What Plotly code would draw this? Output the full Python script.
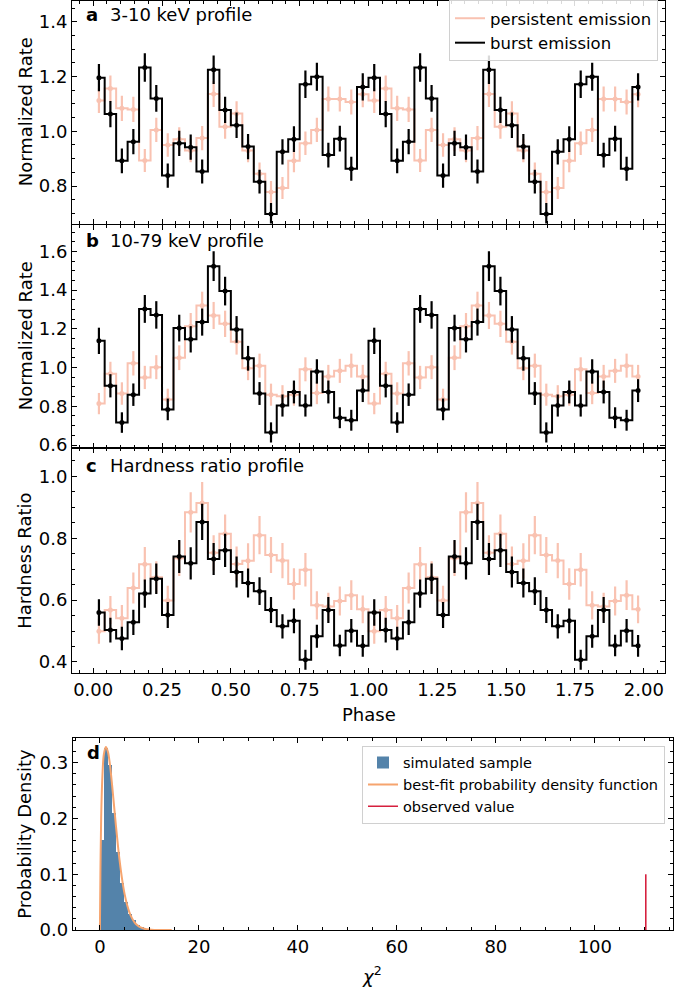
import plotly.graph_objects as go

# ---------------- data ----------------
n_bins = 24
phase_one = [(i + 0.5) / n_bins for i in range(n_bins)]
phase = phase_one + [p + 1.0 for p in phase_one]

# panel a: 3-10 keV normalized rate (one cycle, shown twice)
soft_burst = [1.196, 1.063, 0.892, 0.962, 1.233, 1.120, 0.838, 0.956, 0.942, 0.853, 1.225, 1.078,
              1.022, 0.944, 0.816, 0.698, 0.925, 0.971, 1.172, 1.199, 0.913, 0.973, 0.863, 1.162]
soft_burst_err = [0.050, 0.048, 0.045, 0.046, 0.052, 0.049, 0.044, 0.046, 0.046, 0.044, 0.052, 0.048,
                  0.047, 0.046, 0.043, 0.040, 0.046, 0.047, 0.050, 0.051, 0.045, 0.047, 0.044, 0.050]
soft_pers = [1.112, 1.156, 1.084, 1.080, 0.893, 1.005, 0.950, 0.971, 0.930, 0.975, 1.136, 1.017,
             1.065, 0.930, 0.845, 0.778, 0.793, 0.892, 0.956, 1.005, 1.118, 1.118, 1.107, 1.135]
soft_pers_err = [0.045, 0.048, 0.046, 0.046, 0.042, 0.044, 0.043, 0.044, 0.043, 0.044, 0.047, 0.044,
                 0.045, 0.043, 0.041, 0.040, 0.040, 0.042, 0.043, 0.044, 0.046, 0.046, 0.046, 0.047]

# panel b: 10-79 keV normalized rate
hard_burst = [1.138, 0.906, 0.716, 0.860, 1.303, 1.272, 0.784, 1.204, 1.146, 1.235, 1.524, 1.395,
              1.197, 1.048, 0.866, 0.665, 0.804, 0.874, 0.804, 0.980, 0.874, 0.741, 0.728, 0.881]
hard_burst_err = [0.068, 0.060, 0.053, 0.058, 0.072, 0.071, 0.056, 0.069, 0.068, 0.070, 0.077, 0.074,
                  0.069, 0.064, 0.059, 0.052, 0.057, 0.059, 0.057, 0.063, 0.059, 0.054, 0.054, 0.059]
hard_pers = [0.814, 0.968, 0.866, 1.022, 0.949, 1.002, 0.835, 1.051, 1.214, 1.320, 1.269, 1.226,
             1.133, 0.997, 1.010, 0.860, 0.852, 0.860, 0.991, 0.869, 0.954, 0.983, 1.010, 0.954]
hard_pers_err = [0.055, 0.062, 0.058, 0.063, 0.060, 0.062, 0.056, 0.064, 0.068, 0.072, 0.070, 0.068,
                 0.066, 0.062, 0.062, 0.057, 0.057, 0.057, 0.062, 0.058, 0.060, 0.062, 0.062, 0.060]

# panel c: hardness ratio
hr_burst = [0.560, 0.503, 0.476, 0.528, 0.621, 0.669, 0.552, 0.741, 0.719, 0.853, 0.733, 0.761,
            0.691, 0.655, 0.629, 0.568, 0.515, 0.533, 0.407, 0.483, 0.568, 0.453, 0.501, 0.452]
hr_burst_err = [0.043, 0.040, 0.038, 0.041, 0.046, 0.049, 0.042, 0.053, 0.052, 0.059, 0.052, 0.054,
                0.050, 0.047, 0.045, 0.042, 0.039, 0.040, 0.032, 0.037, 0.042, 0.035, 0.038, 0.035]
hr_pers = [0.499, 0.568, 0.541, 0.639, 0.716, 0.674, 0.599, 0.735, 0.884, 0.914, 0.753, 0.815,
           0.717, 0.727, 0.810, 0.746, 0.728, 0.652, 0.698, 0.583, 0.579, 0.597, 0.616, 0.570]
hr_pers_err = [0.040, 0.045, 0.043, 0.050, 0.056, 0.052, 0.047, 0.057, 0.065, 0.068, 0.057, 0.062,
               0.056, 0.057, 0.062, 0.058, 0.057, 0.051, 0.054, 0.046, 0.045, 0.047, 0.048, 0.045]

# panel d: chi-square test
hist_left_edges = [0.0, 0.81, 1.62, 2.43, 3.24, 4.05, 4.86, 5.67, 6.48, 7.29, 8.10, 8.91, 9.72, 10.53, 11.34]
hist_bin_width = 0.81
hist_density = [0.162, 0.327, 0.296, 0.211, 0.140, 0.085, 0.050, 0.030, 0.018, 0.010, 0.006, 0.003,
                0.0015, 0.0008, 0.0004]
pdf_x = [0.0, 0.1, 0.25, 0.5, 0.8, 1.2, 1.6, 2.0, 2.4, 2.8, 3.2, 3.6, 4.0, 4.5, 5.0, 5.5, 6.0, 6.5,
         7.0, 7.5, 8.0, 9.0, 10.0, 11.0, 12.0, 13.0, 14.5]
pdf_y = [0.0, 0.10, 0.20, 0.275, 0.315, 0.328, 0.320, 0.298, 0.265, 0.228, 0.190, 0.155, 0.123,
         0.090, 0.064, 0.045, 0.031, 0.021, 0.014, 0.009, 0.006, 0.0025, 0.001, 0.0004, 0.0002,
         0.0001, 0.0]
observed_chi2 = 110.3
observed_marker_height = 0.1

# ---------------- style ----------------
W, H = 694, 995
FONT = "DejaVu Sans"
PINK = "#f9c2b1"
BLACK = "#000000"
BLUE = "rgb(84,131,170)"
ORANGE = "#f6a46e"
RED = "#d6203e"

def px_x(p):
    return p / W

def px_y(p):
    return 1 - p / H

fig = go.Figure()

def add_profile(xa, ya, burst, burst_err, pers, pers_err, show_legend):
    b = burst + burst
    be = burst_err + burst_err
    pp = pers + pers
    pe = pers_err + pers_err
    fig.add_trace(go.Scatter(x=phase, y=pp, mode="lines", line=dict(color=PINK, width=2, shape="hvh"),
                             name="persistent emission", showlegend=show_legend, legend="legend",
                             xaxis=xa, yaxis=ya))
    fig.add_trace(go.Scatter(x=phase, y=pp, mode="markers", marker=dict(color=PINK, size=5),
                             error_y=dict(type="data", array=pe, color=PINK, thickness=2.2, width=0),
                             showlegend=False, xaxis=xa, yaxis=ya))
    fig.add_trace(go.Scatter(x=phase, y=b, mode="lines", line=dict(color=BLACK, width=2, shape="hvh"),
                             name="burst emission", showlegend=show_legend, legend="legend",
                             xaxis=xa, yaxis=ya))
    fig.add_trace(go.Scatter(x=phase, y=b, mode="markers", marker=dict(color=BLACK, size=5),
                             error_y=dict(type="data", array=be, color=BLACK, thickness=2.2, width=0),
                             showlegend=False, xaxis=xa, yaxis=ya))

add_profile("x", "y", soft_burst, soft_burst_err, soft_pers, soft_pers_err, True)
add_profile("x2", "y2", hard_burst, hard_burst_err, hard_pers, hard_pers_err, False)
add_profile("x3", "y3", hr_burst, hr_burst_err, hr_pers, hr_pers_err, False)

fig.add_trace(go.Bar(x=hist_left_edges, y=hist_density, width=hist_bin_width, offset=0,
                     marker=dict(color=BLUE, line=dict(width=0)), name="simulated sample",
                     legend="legend2", xaxis="x4", yaxis="y4"))
fig.add_trace(go.Scatter(x=pdf_x, y=pdf_y, mode="lines", line=dict(color=ORANGE, width=2, shape="spline"),
                         name="best-fit probability density function", legend="legend2",
                         xaxis="x4", yaxis="y4"))
fig.add_trace(go.Scatter(x=[observed_chi2, observed_chi2], y=[0, observed_marker_height], mode="lines",
                         line=dict(color=RED, width=1.6), name="observed value", legend="legend2",
                         xaxis="x4", yaxis="y4"))

tickfont = dict(family=FONT, size=18, color="black")

def xaxis(domain, rng, dtick, minor_dtick, anchor, show_labels, fmt):
    return dict(domain=domain, range=rng, anchor=anchor, showline=True, linecolor="black", linewidth=1,
                mirror="allticks", ticks="inside", ticklen=5, tickwidth=1, tickcolor="black",
                tick0=0, dtick=dtick, showticklabels=show_labels, tickformat=fmt, tickfont=tickfont,
                showgrid=False, zeroline=False,
                minor=dict(ticks="inside", ticklen=3, tickwidth=1, tickcolor="black", dtick=minor_dtick,
                           tick0=0, showgrid=False))

def yaxis(domain, rng, dtick, minor_dtick, anchor, fmt):
    return dict(domain=domain, range=rng, anchor=anchor, showline=True, linecolor="black", linewidth=1,
                mirror="allticks", ticks="inside", ticklen=5, tickwidth=1, tickcolor="black",
                tick0=0, dtick=dtick, tickformat=fmt, tickfont=tickfont, showgrid=False, zeroline=False,
                minor=dict(ticks="inside", ticklen=3, tickwidth=1, tickcolor="black", dtick=minor_dtick,
                           tick0=0, showgrid=False))

xdom = [px_x(72), px_x(665)]
xdom4 = [px_x(72.7), px_x(673)]
phase_range = [-0.077, 2.077]

layout = dict(
    width=W, height=H, margin=dict(l=0, r=0, t=0, b=0),
    paper_bgcolor="white", plot_bgcolor="white",
    font=dict(family=FONT, color="black"),
    bargap=0,
    xaxis=xaxis(xdom, phase_range, 0.25, 0.05, "y", False, ".2f"),
    xaxis2=xaxis(xdom, phase_range, 0.25, 0.05, "y2", False, ".2f"),
    xaxis3=xaxis(xdom, phase_range, 0.25, 0.05, "y3", True, ".2f"),
    xaxis4=xaxis(xdom4, [-5.5, 115.8], 20, 5, "y4", True, "d"),
    yaxis=yaxis([px_y(225), px_y(0)], [0.663, 1.476], 0.2, 0.05, "x", ".1f"),
    yaxis2=yaxis([px_y(452), px_y(226)], [0.5846, 1.739], 0.2, 0.05, "x2", ".1f"),
    yaxis3=yaxis([px_y(680), px_y(452)], [0.3626, 1.092], 0.2, 0.05, "x3", ".1f"),
    yaxis4=yaxis([px_y(939.5), px_y(745)], [0, 0.3445], 0.1, 0.02, "x4", ".1f"),
    legend=dict(x=px_x(658), y=px_y(-1), xanchor="right", yanchor="top",
                bgcolor="rgba(255,255,255,0.85)", bordercolor="#d0d0d0", borderwidth=1,
                font=dict(family=FONT, size=16.5, color="black"), tracegroupgap=0),
    legend2=dict(x=px_x(665), y=px_y(753), xanchor="right", yanchor="top",
                 bgcolor="rgba(255,255,255,0.85)", bordercolor="#d0d0d0", borderwidth=1,
                 font=dict(family=FONT, size=14.5, color="black"), tracegroupgap=0),
)
fig.update_layout(**layout)

annots = []
def text_ann(txt, x, y, size=18, xanchor="left", angle=0):
    annots.append(dict(text=txt, x=px_x(x), y=px_y(y), xref="paper", yref="paper", showarrow=False,
                       xanchor=xanchor, yanchor="middle", textangle=angle,
                       font=dict(family=FONT, size=size, color="black")))

text_ann("<b>a</b>", 84, 14)
text_ann("3-10 keV profile", 108, 14)
text_ann("<b>b</b>", 84, 242)
text_ann("10-79 keV profile", 108, 242)
text_ann("<b>c</b>", 84, 470)
text_ann("Hardness ratio profile", 108, 470)
text_ann("<b>d</b>", 85, 760)
text_ann("Normalized Rate", 25, 112.5, xanchor="center", angle=-90)
text_ann("Normalized Rate", 25, 339, xanchor="center", angle=-90)
text_ann("Hardness Ratio", 25, 566, xanchor="center", angle=-90)
text_ann("Probability Density", 25, 842, xanchor="center", angle=-90)
text_ann("Phase", 368.5, 721, xanchor="center")
text_ann("<i>χ</i><sup>2</sup>", 372, 985, xanchor="center")
fig.update_layout(annotations=annots)

fig.write_html("out.html", config={"displayModeBar": False},
               post_script="document.body.style.margin='0px';document.body.style.padding='0px';")
